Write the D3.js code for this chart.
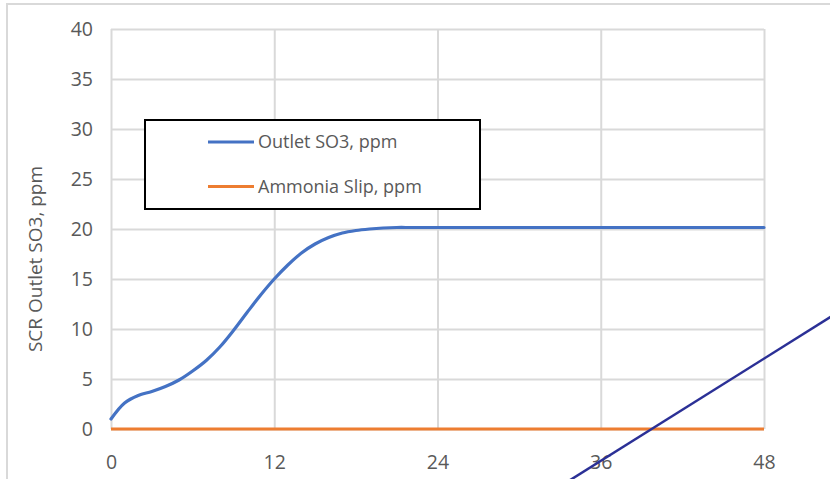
<!DOCTYPE html>
<html>
<head>
<meta charset="utf-8">
<script src="https://cdn.jsdelivr.net/npm/d3@7"></script>
<style>
  html, body { margin: 0; padding: 0; background: #fff; }
  svg { display: block; }
  text { font-family: "Open Sans", sans-serif; fill: #595959; }
</style>
</head>
<body>
<svg id="chart" width="830" height="479"></svg>
<script>
// Hours after start
const hours = [0,1,2,3,4,5,6,7,8,9,10,11,12,13,14,15,16,17,18,19,20,21,22,23,24,
  25,26,27,28,29,30,31,32,33,34,35,36,37,38,39,40,41,42,43,44,45,46,47,48];
// Outlet SO3 concentration, ppm
const outletSO3 = [1.0,2.6,3.35,3.75,4.25,4.9,5.8,6.85,8.2,9.85,11.65,13.4,15.0,16.4,17.6,18.5,19.15,19.6,19.85,20.0,20.1,20.15,20.15,20.15,20.15,
  20.15,20.15,20.15,20.15,20.15,20.15,20.15,20.15,20.15,20.15,20.15,20.15,20.15,20.15,20.15,20.15,20.15,20.15,20.15,20.15,20.15,20.15,20.15,20.15];
// Ammonia slip, ppm
const ammoniaSlip = hours.map(() => 0);
const xTicks = [0, 12, 24, 36, 48];
const yTicks = [0, 5, 10, 15, 20, 25, 30, 35, 40];
const seriesNames = ["Outlet SO3, ppm", "Ammonia Slip, ppm"];
const seriesColors = ["#4472c4", "#ed7d31"];
const yTitle = "SCR Outlet SO3, ppm";
// Straight drawn annotation line, in (hour, ppm) units
const annotationLine = [[32.5, -6.17], [54.0, 12.15]];

const svg = d3.select("#chart");
const plotLeft = 111, plotRight = 764, plotTop = 29, plotBottom = 429;

const x = d3.scaleLinear().domain([0, 48]).range([plotLeft, plotRight]);
const y = d3.scaleLinear().domain([0, 40]).range([plotBottom, plotTop]);

// chart frame
svg.append("rect")
  .attr("x", 7).attr("y", 4).attr("width", 900).attr("height", 600)
  .attr("fill", "none").attr("stroke", "#d9d9d9").attr("stroke-width", 2);

// gridlines
const gridY = svg.append("g").attr("transform", `translate(${plotLeft},0)`)
  .call(d3.axisLeft(y).tickValues(yTicks).tickSize(-(plotRight - plotLeft)).tickFormat(""));
const gridX = svg.append("g").attr("transform", `translate(0,${plotBottom})`)
  .call(d3.axisBottom(x).tickValues(xTicks).tickSize(-(plotBottom - plotTop)).tickFormat(""));
[gridY, gridX].forEach(g => {
  g.select(".domain").remove();
  g.selectAll("line").attr("stroke", "#d9d9d9").attr("stroke-width", 2);
});

// tick labels
const yAxis = svg.append("g").attr("transform", `translate(${plotLeft},0)`)
  .call(d3.axisLeft(y).tickValues(yTicks).tickSize(0).tickPadding(18));
const xAxis = svg.append("g").attr("transform", `translate(0,${plotBottom})`)
  .call(d3.axisBottom(x).tickValues(xTicks).tickSize(0));
[yAxis, xAxis].forEach(g => {
  g.select(".domain").remove();
  g.selectAll("text").attr("font-size", 19.5).attr("font-family", "Open Sans, sans-serif").attr("fill", "#595959");
});
xAxis.selectAll("text").attr("y", 39.5).attr("dy", 0);

// y-axis title
svg.append("text")
  .attr("transform", "translate(42,259) rotate(-90)")
  .attr("text-anchor", "middle")
  .attr("font-size", 19)
  .text(yTitle);

// series
const line = d3.line().x((d, i) => x(hours[i])).y(d => y(d)).curve(d3.curveCatmullRom.alpha(0.5));
svg.append("path").datum(ammoniaSlip)
  .attr("d", line).attr("fill", "none")
  .attr("stroke", seriesColors[1]).attr("stroke-width", 3.2);
svg.append("path").datum(outletSO3)
  .attr("d", line).attr("fill", "none")
  .attr("stroke", seriesColors[0]).attr("stroke-width", 3.2)
  .attr("stroke-linejoin", "round").attr("stroke-linecap", "round");

// legend
const lg = svg.append("g");
lg.append("rect").attr("x", 145).attr("y", 120).attr("width", 335).attr("height", 89)
  .attr("fill", "#fff").attr("stroke", "#000").attr("stroke-width", 2);
seriesNames.forEach((name, i) => {
  const cy = 142 + i * 44.5;
  lg.append("line").attr("x1", 208).attr("x2", 254).attr("y1", cy).attr("y2", cy)
    .attr("stroke", seriesColors[i]).attr("stroke-width", 3.2);
  lg.append("text").attr("x", 258).attr("y", cy).attr("dy", "0.35em")
    .attr("font-size", 18).text(name);
});

// annotation line
svg.append("line")
  .attr("x1", x(annotationLine[0][0])).attr("y1", y(annotationLine[0][1]))
  .attr("x2", x(annotationLine[1][0])).attr("y2", y(annotationLine[1][1]))
  .attr("stroke", "#2b3096").attr("stroke-width", 2.5);
</script>
</body>
</html>
